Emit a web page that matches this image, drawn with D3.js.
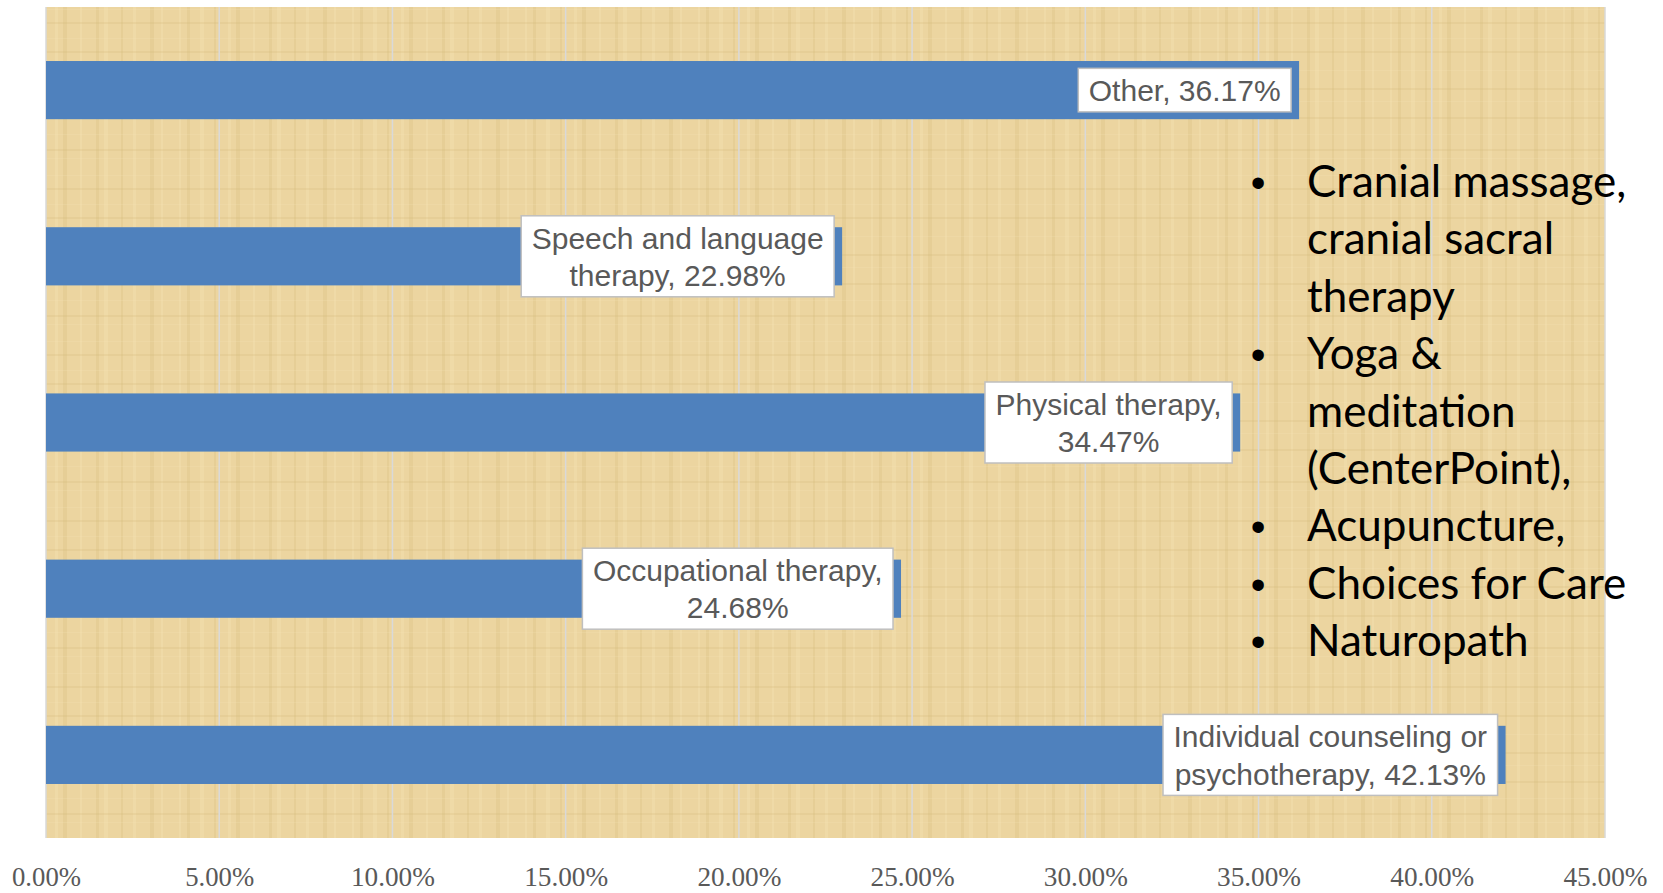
<!DOCTYPE html>
<html>
<head>
<meta charset="utf-8">
<script src="https://cdn.jsdelivr.net/npm/d3@7"></script>
<style>
  html, body { margin: 0; padding: 0; background: #ffffff; }
  svg { display: block; }
</style>
</head>
<body>
<script>
// chart data, listed top to bottom as drawn
const categories = ['Other', 'Speech and language therapy', 'Physical therapy', 'Occupational therapy', 'Individual counseling or psychotherapy']
const values = [0.3617, 0.2298, 0.3447, 0.2468, 0.4213]
const labelLines = [
    ['Other, 36.17%'],
    ['Speech and language', 'therapy, 22.98%'],
    ['Physical therapy,', '34.47%'],
    ['Occupational therapy,', '24.68%'],
    ['Individual counseling or', 'psychotherapy, 42.13%']
]
const tickValues = [0, 0.05, 0.10, 0.15, 0.20, 0.25, 0.30, 0.35, 0.40, 0.45]
const notes = [
    ['Cranial massage,', 'cranial sacral', 'therapy'],
    ['Yoga &', 'meditation', '(CenterPoint),'],
    ['Acupuncture,'],
    ['Choices for Care'],
    ['Naturopath']
]

const m = {
    width: 1663,
    height: 893,
    left: 46,
    right: 1605,
    top: 7,
    bottom: 838
}

const svg = d3.select('body').append('svg')
    .attr('width', m.width)
    .attr('height', m.height)

// papyrus-ish texture for the plot area
const defs = svg.append('defs')
const pat = defs.append('pattern')
    .attr('id', 'papyrus')
    .attr('patternUnits', 'userSpaceOnUse')
    .attr('width', 173)
    .attr('height', 166)
pat.append('rect').attr('width', 173).attr('height', 166).attr('fill', '#ecd5a0')
const stripesV = [6, 14, 27, 41, 55, 63, 80, 96, 104, 121, 133, 150, 161]
const stripesH = [9, 22, 38, 51, 70, 88, 101, 117, 134, 149, 158]
pat.selectAll('.v').data(stripesV).enter().append('rect')
    .attr('x', d => d).attr('y', 0)
    .attr('width', (d, i) => 2 + (i % 3)).attr('height', 166)
    .attr('fill', (d, i) => i % 2 ? '#d8bb7c' : '#f5e5ba')
    .attr('opacity', 0.28)
pat.selectAll('.h').data(stripesH).enter().append('rect')
    .attr('x', 0).attr('y', d => d)
    .attr('width', 173).attr('height', (d, i) => 1 + (i % 2))
    .attr('fill', (d, i) => i % 2 ? '#d3b677' : '#f5e4b8')
    .attr('opacity', 0.22)

const x = d3.scaleLinear()
    .domain([0, 0.45])
    .range([m.left, m.right])

const y = d3.scaleBand()
    .domain(categories)
    .range([m.top, m.bottom])
    .paddingInner(0.65)
    .paddingOuter(0.325)

svg.append('rect')
    .attr('x', m.left)
    .attr('y', m.top)
    .attr('width', m.right - m.left)
    .attr('height', m.bottom - m.top)
    .attr('fill', 'url(#papyrus)')

// gridlines
svg.append('g')
    .selectAll('line')
    .data(tickValues)
    .enter()
    .append('line')
    .attr('x1', d => x(d))
    .attr('x2', d => x(d))
    .attr('y1', m.top)
    .attr('y2', m.bottom)
    .attr('stroke', '#d9d9d9')
    .attr('stroke-width', 1.5)

// x axis, narrow serif labels
const xAxis = svg.append('g')
    .attr('transform', `translate(0,${m.bottom})`)
    .call(d3.axisBottom(x).tickValues(tickValues).tickFormat(d3.format('.2%')).tickSize(0).tickPadding(0))
xAxis.select('.domain').remove()
xAxis.selectAll('text')
    .attr('y', 48)
    .attr('dy', 0)
    .attr('fill', '#595959')
    .style('font-family', '"Liberation Serif", serif')
    .style('font-size', '28px')
    .attr('textLength', d => d >= 0.1 ? 84 : 69)
    .attr('lengthAdjust', 'spacingAndGlyphs')

// bars
svg.append('g')
    .selectAll('rect')
    .data(categories)
    .enter()
    .append('rect')
    .attr('x', x(0))
    .attr('y', d => y(d))
    .attr('width', (d, i) => x(values[i]) - x(0))
    .attr('height', y.bandwidth())
    .attr('fill', '#4f81bd')

// data labels
const lineH = 37.5
const labels = svg.append('g')
    .selectAll('g')
    .data(categories)
    .enter()
    .append('g')

labels.each(function (d, i) {
    const g = d3.select(this)
    const lines = labelLines[i]
    const cy = y(d) + y.bandwidth() / 2
    const box = g.append('rect')
    const t = g.append('text')
        .attr('text-anchor', 'middle')
        .attr('fill', '#595959')
        .style('font-family', '"Liberation Sans", Arial, sans-serif')
        .style('font-size', '30px')
    const first = cy - (lines.length - 1) * lineH / 2 + 11
    lines.forEach(function (s, k) {
        t.append('tspan').attr('y', first + k * lineH).text(s)
    })
    let w = 0
    t.selectAll('tspan').each(function () {
        w = Math.max(w, this.getComputedTextLength())
    })
    const bw = w + 21
    const bh = lines.length * lineH + 6
    const right = x(values[i]) - 8
    box.attr('x', right - bw)
        .attr('y', cy - bh / 2)
        .attr('width', bw)
        .attr('height', bh)
        .attr('fill', '#ffffff')
        .attr('stroke', '#bfbfbf')
        .attr('stroke-width', 1.5)
    t.selectAll('tspan').attr('x', right - bw / 2)
})

// bullet notes on the right
const noteG = svg.append('g')
    .style('font-family', 'Lato, "Open Sans", sans-serif')
    .style('font-size', '44px')
    .attr('fill', '#000000')
let row = 0
notes.forEach(function (item) {
    noteG.append('text')
        .attr('x', 1258)
        .attr('y', 197 + row * 57.4)
        .attr('text-anchor', 'middle')
        .style('font-family', 'Arial, sans-serif')
        .style('font-size', '42px')
        .text('•')
    item.forEach(function (s) {
        noteG.append('text')
            .attr('x', 1307)
            .attr('y', 197 + row * 57.4)
            .text(s)
        row++
    })
})
</script>
</body>
</html>
